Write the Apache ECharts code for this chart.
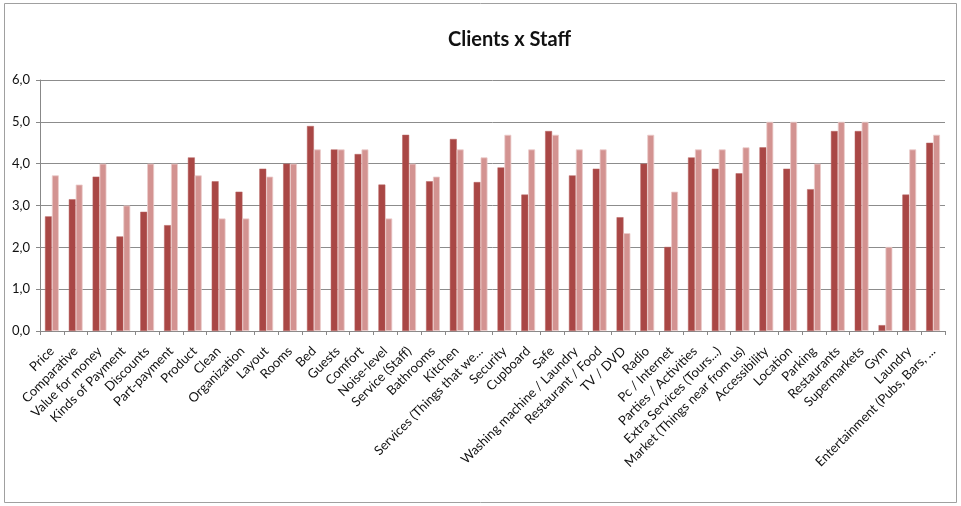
<!DOCTYPE html>
<html>
<head>
<meta charset="utf-8">
<script src="https://cdn.jsdelivr.net/npm/echarts@6/dist/echarts.min.js"></script>
<style>
  html, body { margin: 0; padding: 0; background: #fff; }
  #chart { width: 961px; height: 506px; }
</style>
</head>
<body>
<div id="chart"></div>
<script>
// Survey categories (x axis)
const categories = [
  'Price', 'Comparative', 'Value for money', 'Kinds of Payment', 'Discounts',
  'Part-payment', 'Product', 'Clean', 'Organization', 'Layout', 'Rooms', 'Bed',
  'Guests', 'Comfort', 'Noise-level', 'Service (Staff)', 'Bathrooms', 'Kitchen',
  'Services (Things that we...', 'Security', 'Cupboard', 'Safe',
  'Washing machine / Laundry', 'Restaurant / Food', 'TV / DVD', 'Radio',
  'Pc / Internet', 'Parties / Activities', 'Extra Services (Tours...)',
  'Market (Things near from us)', 'Accessibility', 'Location', 'Parking',
  'Restaurants', 'Supermarkets', 'Gym', 'Laundry', 'Entertainment (Pubs, Bars, ...'
];

// Average scores given by clients
const clients = [
  2.74, 3.15, 3.69, 2.26, 2.85, 2.53, 4.15, 3.58, 3.33, 3.88, 4.00, 4.90,
  4.34, 4.23, 3.50, 4.69, 3.58, 4.59, 3.56, 3.91, 3.26, 4.78, 3.72, 3.88,
  2.72, 4.00, 2.01, 4.15, 3.88, 3.77, 4.39, 3.88, 3.39, 4.78, 4.78, 0.14,
  3.26, 4.50
];

// Average scores given by staff
const staff = [
  3.72, 3.50, 4.00, 3.00, 4.00, 4.00, 3.72, 2.69, 2.69, 3.69, 4.00, 4.34,
  4.34, 4.34, 2.69, 4.00, 3.69, 4.34, 4.15, 4.69, 4.34, 4.69, 4.34, 4.34,
  2.34, 4.69, 3.33, 4.34, 4.34, 4.39, 5.00, 5.00, 4.00, 5.00, 5.00, 2.01,
  4.34, 4.69
];

// Value axis ticks
const yMin = 0, yMax = 6, yStep = 1;

const FONT = 'Lato, "Open Sans", sans-serif';

const chart = echarts.init(document.getElementById('chart'), null, { renderer: 'canvas' });

chart.setOption({
  animation: false,
  backgroundColor: '#ffffff',
  title: {
    text: 'Clients x Staff',
    left: 443,
    top: 25,
    textStyle: { fontFamily: FONT, fontSize: 20, fontWeight: 'bold', color: '#111' }
  },
  graphic: [{
    type: 'rect',
    shape: { x: 4.5, y: 3.5, width: 952, height: 499 },
    style: { fill: 'none', stroke: '#a0a0a0', lineWidth: 1 },
    silent: true
  }],
  grid: { left: 40, right: 16, top: 80, bottom: 175, containLabel: false },
  xAxis: {
    type: 'category',
    data: categories,
    axisLine: { lineStyle: { color: '#888', width: 1 } },
    axisTick: { show: true, interval: 0, length: 4, lineStyle: { color: '#888' } },
    axisLabel: {
      interval: 0,
      rotate: 45,
      margin: 18,
      fontFamily: FONT,
      fontSize: 13,
      color: '#111'
    }
  },
  yAxis: {
    type: 'value',
    min: yMin,
    max: yMax,
    interval: yStep,
    axisLine: { show: true, lineStyle: { color: '#888', width: 1 } },
    axisTick: { show: true, length: 4, lineStyle: { color: '#888' } },
    splitLine: { show: true, lineStyle: { color: '#8c8c8c', width: 1 } },
    axisLabel: {
      margin: 10,
      fontFamily: FONT,
      fontSize: 13,
      color: '#111',
      formatter: v => v.toFixed(1).replace('.', ',')
    }
  },
  series: [
    {
      name: 'Clients',
      type: 'bar',
      data: clients,
      barGap: '0%',
      barCategoryGap: '42%',
      itemStyle: { color: '#A94745', borderColor: '#B86664', borderWidth: 0.5 }
    },
    {
      name: 'Staff',
      type: 'bar',
      data: staff,
      itemStyle: { color: '#D39391', borderColor: '#EBCBCA', borderWidth: 0.8 }
    }
  ]
});
</script>
</body>
</html>
